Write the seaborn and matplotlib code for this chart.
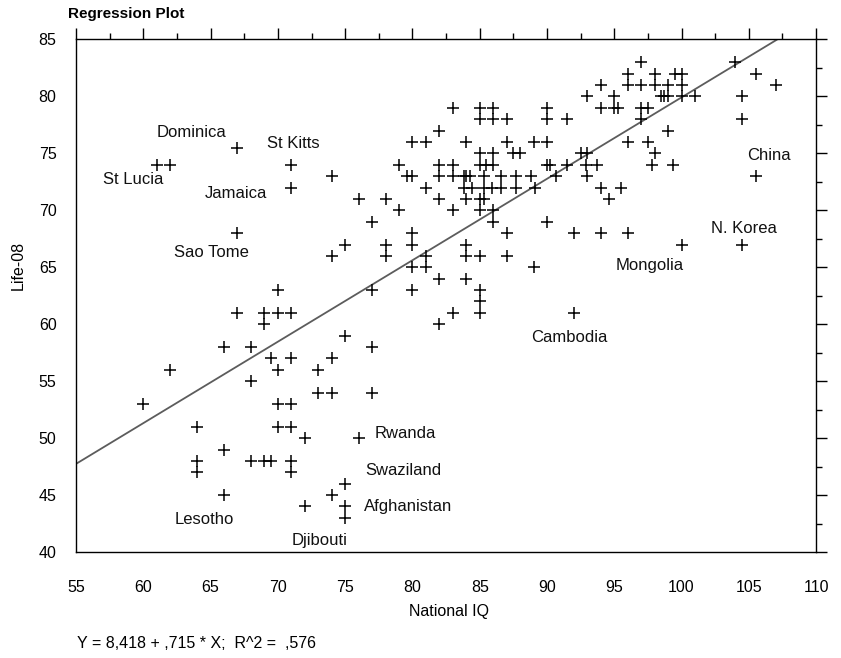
import matplotlib
matplotlib.use("Agg")
import matplotlib.pyplot as plt
import numpy as np
import seaborn as sns
from matplotlib.ticker import MultipleLocator

# National IQ vs life expectancy 2008
iq = [
    60, 62, 61, 62, 67, 71, 71, 67, 70,
    67, 69, 70, 71, 69,
    66, 68, 69.5, 71,
    70, 73, 68, 73, 74, 77,
    70, 71, 64, 70, 71, 72, 66,
    64, 64, 68, 69, 69.5, 71, 71, 66, 72,
    82, 83, 85, 85, 85, 75, 77, 74,
    76, 75, 74, 75, 75,
    74, 75, 77, 80, 82, 84, 80, 81, 89, 74, 76, 78, 79, 77, 80, 80, 78, 78,
    81, 84, 85, 87, 84, 87, 86, 90, 83, 85, 86, 82, 84, 85, 85.3,
    83, 85, 86, 90, 85, 86, 87, 90, 82, 80, 81, 84, 87, 89, 90,
    85, 86, 87.5, 88, 85, 85.5, 86, 90, 90.2, 79, 82, 83, 91.5,
    79.6, 80, 82, 83, 83.8, 84, 84.3, 85.3, 86.6, 87.7, 88.8, 90.7,
    81, 83.8, 84.4, 85.3, 85.9, 86.6, 87.7, 89.1,
    97, 96, 98, 99.5, 100, 94, 96, 97, 98, 99, 100,
    93, 95, 98.5, 98.7, 99, 100, 101, 94, 95, 95.3, 97, 97.5,
    91.5, 97, 99, 96, 97.5, 98, 92.5, 93, 92.9, 93.7, 97.8, 99.4,
    93, 94, 95.5, 94.6, 92, 94, 96, 100, 104.5,
    104, 105.5, 107, 104.5, 104.5, 105.5, 92,
]
life = [
    53, 56, 74, 74, 75.5, 74, 72, 68, 63,
    61, 61, 61, 61, 60,
    58, 58, 57, 57,
    56, 56, 55, 54, 54, 54,
    53, 53, 51, 51, 51, 50, 49,
    48, 47, 48, 48, 48, 48, 47, 45, 44,
    60, 61, 61, 62, 63, 59, 58, 57,
    50, 46, 45, 44, 43,
    66, 67, 63, 63, 64, 64, 65, 65, 65, 73, 71, 71, 70, 69, 68, 67, 67, 66,
    66, 66, 66, 66, 67, 68, 69, 69, 70, 70, 70, 71, 71, 71, 71,
    79, 79, 79, 79, 78, 78, 78, 78, 77, 76, 76, 76, 76, 76, 76,
    75, 75, 75, 75, 74, 74, 74, 74, 74, 74, 74, 74, 74,
    73, 73, 73, 73, 73, 73, 73, 73, 73, 73, 73, 73,
    72, 72, 72, 72, 72, 72, 72, 72,
    83, 82, 82, 82, 82, 81, 81, 81, 81, 81, 81,
    80, 80, 80, 80, 80, 80, 80, 79, 79, 79, 79, 79,
    78, 78, 77, 76, 76, 75, 75, 75, 74, 74, 74, 74,
    73, 72, 72, 71, 68, 68, 68, 67, 67,
    83, 82, 81, 80, 78, 73, 61,
]

# labelled countries and where their names sit
label_names = ["Dominica", "St Kitts", "St Lucia", "Jamaica", "Sao Tome",
               "Lesotho", "Djibouti", "Afghanistan", "Swaziland", "Rwanda",
               "Cambodia", "Mongolia", "N. Korea", "China"]
label_x = [61.0, 69.2, 57.0, 64.6, 62.3, 62.3, 71.0, 76.4, 76.5, 77.2,
           88.8, 95.1, 102.2, 104.9]
label_y = [76.8, 75.9, 72.7, 71.5, 66.3, 42.9, 41.0, 44.0, 47.2, 50.4,
           58.8, 65.2, 68.4, 74.8]

intercept = 8.418
slope = 0.715
r2 = 0.576

sns.set_style("white")
plt.rcParams['font.family'] = ['Liberation Sans', 'DejaVu Sans']
plt.rcParams['text.color'] = 'black'
plt.rcParams['xtick.color'] = 'black'
plt.rcParams['ytick.color'] = 'black'

fig = plt.figure(figsize=(8.41, 6.58), dpi=100)
ax = fig.add_axes([0.0904, 0.161, 0.880, 0.779])

sns.scatterplot(x=iq, y=life, marker='+', s=80, color='black',
                linewidth=1.1, ax=ax, zorder=3)

line_x = np.array([55, (85 - intercept) / slope])
sns.lineplot(x=line_x, y=intercept + slope * line_x, color='#5c5c5c',
             linewidth=1.3, ax=ax, zorder=2)

for name, lx, ly in zip(label_names, label_x, label_y):
    ax.text(lx, ly, name, fontsize=12, ha='left', va='center', color='#111111')

ax.set_xlim(55, 110)
ax.set_ylim(40, 85)
ax.xaxis.set_major_locator(MultipleLocator(5))
ax.xaxis.set_minor_locator(MultipleLocator(2.5))
ax.yaxis.set_major_locator(MultipleLocator(5))
ax.yaxis.set_minor_locator(MultipleLocator(2.5))
ax.tick_params(which='both', direction='out', top=True, right=True,
               labeltop=False, labelright=False, color='black', width=1,
               labelcolor='black')
ax.tick_params(which='major', length=8, labelsize=11.5)
ax.tick_params(axis='x', which='major', pad=12)
ax.tick_params(axis='y', which='major', pad=6)
ax.tick_params(which='minor', length=4)
for sp in ax.spines.values():
    sp.set_color('black')
    sp.set_linewidth(1)
ax.set_xlabel('')
ax.set_ylabel('')

fig.text(0.081, 0.979, 'Regression Plot', fontsize=11, fontweight='bold',
         ha='left', va='center')
fig.text(0.534, 0.071, 'National IQ', fontsize=11.5, ha='center', va='center')
fig.text(0.022, 0.597, 'Life-08', fontsize=11.5, rotation=90,
         ha='center', va='center')
eq = 'Y = ' + f'{intercept:.3f}'.replace('.', ',') + ' + ' + \
     f'{slope:.3f}'.lstrip('0').replace('.', ',') + ' * X;  R^2 =  ' + \
     f'{r2:.3f}'.lstrip('0').replace('.', ',')
fig.text(0.092, 0.022, eq, fontsize=11.5, ha='left', va='center')

fig.savefig('out.png', dpi=100)
